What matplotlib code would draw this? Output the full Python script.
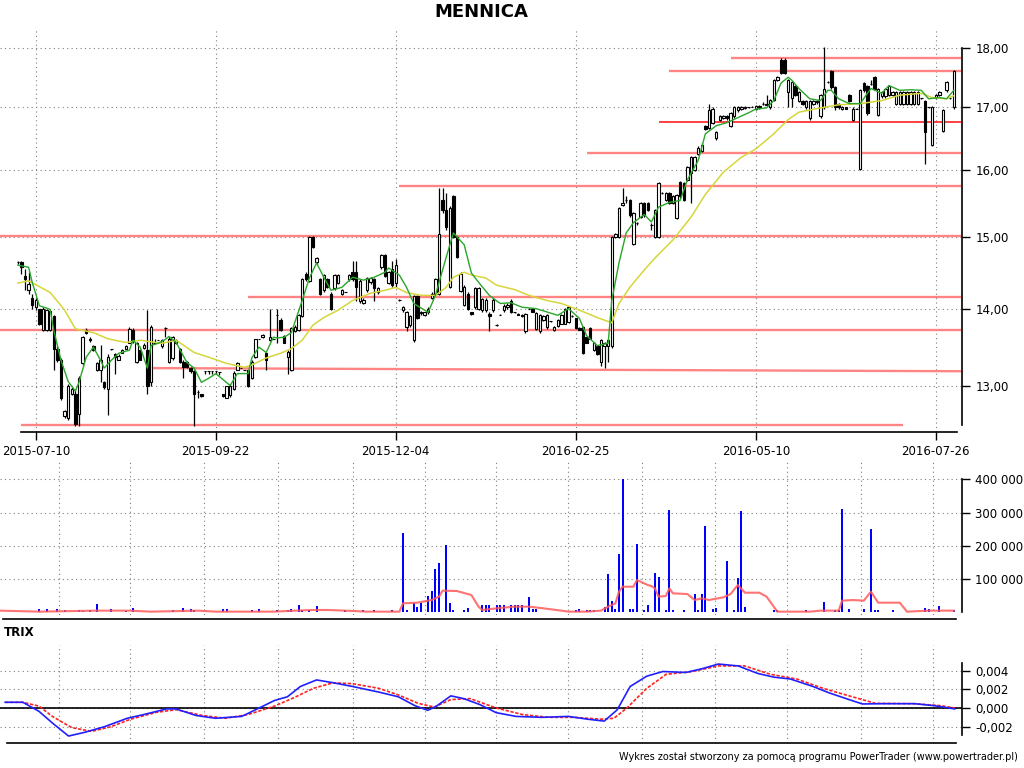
import numpy as np
import matplotlib.pyplot as plt
from matplotlib.ticker import FixedLocator, FuncFormatter, NullLocator

plt.rcParams['font.family'] = 'DejaVu Sans'

# ---------------- data ----------------
date_idx = [5, 55, 105, 155, 205, 255]
date_labels = ['2015-07-10', '2015-09-22', '2015-12-04', '2016-02-25', '2016-05-10', '2016-07-26']
month_grid = [11.4, 31.3, 51.8, 72.2, 93.0, 113.0, 132.9, 152.9, 173.4, 193.7, 213.7, 234.2, 254.2]

opens = [
    14.64, 14.64, 14.45, 14.25, 14.15, 14.02, 14.00, 13.71, 13.72, 13.72,
    13.90, 13.47, 13.32, 12.62, 12.60, 12.90, 12.90, 12.65, 13.28, 13.72,
    13.60, 13.50, 13.19, 13.20, 13.04, 12.96, 13.46, 13.40, 13.33, 13.42,
    13.47, 13.55, 13.72, 13.30, 13.45, 13.48, 13.45, 13.05, 13.55, 13.58,
    13.50, 13.74, 13.30, 13.35, 13.55, 13.47, 13.30, 13.30, 13.22, 13.18,
    12.92, 12.89, 13.18, 13.18, 13.18, 13.18, 13.17, 12.89, 12.85, 12.88,
    12.95, 13.20, 13.22, 13.20, 13.19, 13.10, 13.36, 13.60, 13.62, 13.42,
    13.58, 13.60, 13.92, 13.85, 13.63, 13.36, 13.20, 13.70, 13.71, 13.90,
    14.48, 14.38, 15.00, 14.64, 14.40, 14.25, 14.40, 14.20, 14.28, 14.35,
    14.20, 14.22, 14.40, 14.50, 14.50, 14.10, 14.08, 14.25, 14.36, 14.40,
    14.22, 14.57, 14.75, 14.35, 14.55, 14.35, 14.12, 13.98, 13.76, 13.78,
    13.58, 14.17, 13.94, 13.92, 13.95, 14.15, 14.20, 14.20, 15.55, 15.40,
    14.30, 15.60, 15.00, 14.24, 14.05, 14.20, 13.95, 14.02, 14.00, 13.98,
    13.98, 13.93, 13.98, 13.78, 13.92, 13.98, 14.02, 14.11, 13.95, 13.93,
    13.90, 13.70, 14.00, 14.00, 13.73, 13.70, 13.85, 13.75, 13.83, 13.71,
    13.77, 13.80, 13.80, 13.82, 13.90, 13.87, 13.74, 13.76, 13.62, 13.74,
    13.45, 13.50, 13.30, 13.50, 13.50, 13.50, 15.00, 15.00, 15.47, 15.55,
    15.54, 14.90, 15.20, 15.30, 15.50, 15.50, 15.17, 15.00, 15.00, 15.65,
    15.55, 15.65, 15.50, 15.28, 15.82, 15.80, 15.85, 15.95, 16.00, 16.25,
    16.30, 16.70, 16.66, 16.75, 16.50, 16.80, 16.83, 16.86, 16.70, 16.85,
    16.95, 16.98, 16.99, 17.00, 17.01, 16.98, 17.00, 17.05, 17.04, 17.00,
    17.12, 17.45, 17.80, 17.80, 17.25, 17.15, 17.35, 17.10, 17.10, 17.00,
    16.82, 17.05, 17.08, 16.85, 17.00, 17.42, 17.60, 17.33, 17.05, 16.98,
    17.00, 17.20, 16.80, 16.98, 16.02, 17.40, 17.35, 17.38, 17.50, 16.88,
    17.18, 17.18, 17.20, 17.20, 17.05, 17.05, 17.05, 17.06, 17.06, 17.06,
    17.06, 17.15, 17.10, 17.00, 16.40, 17.15, 17.20, 16.62, 17.28, 17.15,
    17.00,
]
highs = [
    14.66, 14.66, 14.55, 14.50, 14.20, 14.15, 14.00, 14.02, 14.00, 13.98,
    13.92, 13.50, 13.35, 12.70, 13.02, 12.98, 12.95, 13.12, 13.64, 13.74,
    13.62, 13.52, 13.30, 13.52, 13.06, 13.40, 13.47, 13.42, 13.40, 13.46,
    13.52, 13.75, 13.74, 13.56, 13.47, 13.55, 13.98, 13.78, 13.60, 13.58,
    13.60, 13.76, 13.62, 13.64, 13.60, 13.48, 13.32, 13.31, 13.23, 13.20,
    12.94, 12.90, 13.18, 13.18, 13.18, 13.18, 13.17, 12.90, 13.00, 13.02,
    13.18, 13.30, 13.22, 13.20, 13.20, 13.32, 13.60, 13.60, 13.66, 13.43,
    14.00, 13.60, 14.00, 13.87, 13.65, 13.45, 13.76, 13.78, 13.93, 14.42,
    14.50, 15.02, 15.02, 14.72, 14.42, 14.48, 14.42, 14.22, 14.48, 14.48,
    14.27, 14.22, 14.48, 14.66, 14.66, 14.40, 14.14, 14.44, 14.44, 14.42,
    14.30, 14.76, 14.76, 14.52, 14.66, 14.68, 14.13, 14.04, 13.97, 13.92,
    14.19, 14.19, 13.97, 13.96, 14.02, 14.22, 14.42, 15.73, 15.73, 15.65,
    15.45, 15.62, 15.02, 14.50, 14.32, 14.22, 13.96, 14.30, 14.30, 14.15,
    14.14, 13.95, 14.14, 13.79, 13.93, 14.06, 14.07, 14.13, 13.96, 13.94,
    13.93, 13.94, 14.01, 14.01, 13.95, 13.93, 13.91, 13.93, 13.84, 13.77,
    13.86, 13.93, 14.01, 14.03, 13.91, 13.88, 13.75, 13.77, 13.63, 13.75,
    13.56, 13.51, 13.59, 13.56, 13.59, 15.02, 15.06, 15.44, 15.72, 15.60,
    15.56, 15.37, 15.22, 15.52, 15.52, 15.52, 15.20, 15.41, 15.82, 15.66,
    15.67, 15.66, 15.62, 15.64, 15.84, 15.82, 16.07, 16.22, 16.22, 16.37,
    16.42, 16.72, 17.05, 17.00, 16.62, 16.87, 16.88, 16.88, 16.92, 17.02,
    17.02, 17.02, 17.02, 17.01, 17.02, 17.04, 17.04, 17.08, 17.20, 17.14,
    17.47, 17.52, 17.82, 17.82, 17.47, 17.44, 17.37, 17.27, 17.12, 17.12,
    17.12, 17.12, 17.12, 17.22, 18.02, 17.43, 17.62, 17.35, 17.07, 17.02,
    17.01, 17.22, 17.00, 16.99, 17.30, 17.42, 17.37, 17.45, 17.52, 17.32,
    17.27, 17.32, 17.37, 17.27, 17.27, 17.27, 17.27, 17.27, 17.27, 17.27,
    17.27, 17.16, 17.12, 17.01, 17.02, 17.22, 17.27, 16.97, 17.44, 17.16,
    17.62,
]
lows = [
    14.62, 14.48, 14.25, 14.20, 14.00, 13.98, 13.78, 13.70, 13.70, 13.70,
    13.20, 13.30, 12.82, 12.60, 12.58, 12.88, 12.50, 12.50, 13.26, 13.66,
    13.56, 13.44, 13.18, 13.05, 12.96, 12.64, 13.45, 13.15, 13.32, 13.41,
    13.46, 13.54, 13.55, 13.28, 13.32, 13.46, 12.90, 13.00, 13.55, 13.58,
    13.48, 13.62, 13.28, 13.33, 13.53, 13.28, 13.10, 13.22, 13.16, 12.50,
    12.85, 12.86, 13.14, 13.14, 13.14, 13.14, 13.13, 12.86, 12.84, 12.86,
    12.94, 13.19, 13.22, 13.20, 12.98, 13.08, 13.35, 13.60, 13.61, 13.20,
    13.57, 13.60, 13.55, 13.70, 13.54, 13.14, 13.18, 13.69, 13.70, 13.89,
    14.38, 14.36, 14.84, 14.62, 14.18, 14.22, 14.28, 13.98, 14.26, 14.33,
    14.18, 14.22, 14.38, 14.38, 14.10, 14.08, 14.06, 14.23, 14.34, 14.10,
    14.20, 14.55, 14.43, 14.33, 14.30, 14.30, 14.11, 13.96, 13.70, 13.76,
    13.56, 13.86, 13.92, 13.90, 13.93, 14.13, 14.18, 14.18, 15.35, 15.10,
    14.28, 14.98, 14.70, 14.22, 14.03, 13.98, 13.92, 14.00, 13.98, 13.96,
    13.96, 13.70, 13.96, 13.77, 13.91, 13.96, 14.00, 13.94, 13.94, 13.91,
    13.89, 13.68, 13.99, 13.95, 13.71, 13.68, 13.84, 13.73, 13.82, 13.70,
    13.76, 13.79, 13.79, 13.81, 13.89, 13.73, 13.71, 13.40, 13.54, 13.59,
    13.44, 13.39, 13.25, 13.22, 13.30, 13.48, 14.98, 14.98, 15.45, 15.50,
    15.30, 14.88, 15.18, 15.28, 15.30, 15.38, 15.10, 14.98, 14.98, 15.64,
    15.53, 15.48, 15.48, 15.26, 15.58, 15.53, 15.83, 15.50, 15.98, 16.23,
    16.28, 16.63, 16.64, 16.73, 16.48, 16.78, 16.81, 16.80, 16.68, 16.83,
    16.93, 16.96, 16.97, 16.99, 17.00, 16.96, 16.98, 17.03, 17.02, 16.98,
    17.10, 17.43, 17.55, 17.55, 17.00, 17.00, 17.18, 17.08, 17.03, 16.98,
    16.80, 17.03, 17.06, 16.83, 16.98, 17.41, 17.31, 16.95, 16.98, 16.96,
    16.97, 17.08, 16.78, 16.97, 16.00, 17.26, 16.88, 17.37, 17.28, 16.86,
    17.16, 17.16, 17.18, 17.18, 17.03, 17.03, 17.03, 17.04, 17.04, 17.04,
    17.04, 17.14, 16.10, 16.99, 16.38, 17.13, 17.18, 16.60, 17.26, 17.14,
    16.98,
]
closes = [
    14.64, 14.58, 14.40, 14.33, 14.05, 14.12, 13.80, 14.00, 13.98, 13.97,
    13.47, 13.32, 12.84, 12.68, 13.00, 12.95, 12.53, 13.10, 13.62, 13.68,
    13.58, 13.45, 13.28, 13.33, 12.98, 13.36, 13.46, 13.36, 13.38, 13.45,
    13.50, 13.73, 13.57, 13.55, 13.33, 13.52, 13.00, 13.75, 13.55, 13.58,
    13.58, 13.74, 13.60, 13.62, 13.58, 13.30, 13.24, 13.24, 13.18, 12.90,
    12.92, 12.87, 13.18, 13.18, 13.18, 13.18, 13.17, 12.87, 12.99, 13.00,
    13.16, 13.28, 13.22, 13.20, 13.00, 13.30, 13.59, 13.60, 13.65, 13.33,
    13.62, 13.60, 13.92, 13.71, 13.55, 13.43, 13.74, 13.76, 13.91, 14.40,
    14.40, 15.00, 14.86, 14.70, 14.20, 14.46, 14.30, 14.00, 14.46, 14.46,
    14.25, 14.22, 14.46, 14.40, 14.30, 14.38, 14.12, 14.42, 14.42, 14.28,
    14.28, 14.75, 14.45, 14.50, 14.32, 14.60, 14.12, 14.02, 13.95, 13.90,
    14.17, 13.88, 13.96, 13.95, 14.00, 14.20, 14.40, 15.05, 15.40, 15.15,
    15.42, 15.00, 14.72, 14.48, 14.30, 14.00, 13.93, 14.28, 14.28, 14.13,
    14.12, 13.90, 14.12, 13.78, 13.92, 14.04, 14.05, 13.96, 13.95, 13.92,
    13.92, 13.93, 14.00, 13.96, 13.94, 13.92, 13.90, 13.92, 13.83, 13.76,
    13.85, 13.92, 14.00, 14.02, 13.90, 13.74, 13.72, 13.42, 13.55, 13.60,
    13.55, 13.40, 13.58, 13.55, 13.58, 15.00, 15.05, 15.42, 15.50, 15.55,
    15.32, 15.35, 15.20, 15.50, 15.32, 15.40, 15.17, 15.39, 15.80, 15.65,
    15.65, 15.50, 15.60, 15.62, 15.60, 15.55, 16.05, 16.20, 16.20, 16.35,
    16.40, 16.65, 16.95, 16.98, 16.60, 16.85, 16.86, 16.82, 16.90, 17.00,
    17.00, 17.00, 17.00, 17.00, 17.01, 17.02, 17.02, 17.06, 17.06, 17.12,
    17.45, 17.50, 17.57, 17.57, 17.45, 17.42, 17.20, 17.25, 17.05, 17.10,
    17.10, 17.10, 17.10, 17.20, 17.30, 17.42, 17.33, 17.00, 17.00, 17.00,
    16.98, 17.10, 16.98, 16.98, 17.28, 17.28, 16.90, 17.38, 17.30, 17.30,
    17.25, 17.30, 17.35, 17.25, 17.25, 17.25, 17.25, 17.25, 17.25, 17.25,
    17.25, 17.15, 16.60, 17.00, 17.00, 17.20, 17.25, 16.95, 17.42, 17.15,
    17.60,
]

# short (green) and long (yellow) moving averages
green_x = [0, 3, 4, 6, 9, 10, 12, 14, 16, 17, 19, 21, 23, 24, 26, 28, 31, 32, 34, 36,
           37, 39, 41, 42, 44, 47, 49, 51, 53, 55, 59, 61, 64, 65, 67, 69, 71, 72, 74, 76,
           79, 81, 83, 85, 87, 90, 93, 96, 99, 102, 103, 106, 108, 110, 114, 116, 119, 121, 124, 126,
           128, 131, 134, 137, 140, 144, 148, 150, 153, 156, 158, 161, 164, 165, 167, 169, 171, 174, 176, 178,
           181, 184, 186, 189, 191, 194, 197, 200, 203, 205, 208, 210, 212, 214, 215, 217, 220, 223, 225, 226,
           228, 231, 234, 236, 237, 240, 242, 245, 248, 251, 253, 256, 258, 260]
green_y = [14.6, 14.57, 14.36, 14.04, 13.99, 13.71, 13.32, 13.05, 12.93, 13.04,
           13.36, 13.49, 13.32, 13.22, 13.32, 13.41, 13.45, 13.58, 13.49, 13.22,
           13.51, 13.54, 13.59, 13.63, 13.55, 13.29, 13.22, 13.04, 13.09, 13.15,
           13.0, 13.15, 13.15, 13.35, 13.49, 13.42, 13.62, 13.61, 13.62, 13.68,
           14.11, 14.42, 14.63, 14.43, 14.25, 14.29, 14.43, 14.39, 14.43, 14.5,
           14.56, 14.46, 14.29, 14.07, 13.95, 14.18, 14.71, 15.06, 14.89, 14.49,
           14.36, 14.18, 14.07, 14.08, 14.02, 14.0, 13.94, 13.91, 14.0, 13.87,
           13.64, 13.51, 13.54, 14.11, 14.63, 15.06, 15.21, 15.33, 15.22, 15.44,
           15.51, 15.54, 15.85, 16.15, 16.57, 16.7, 16.75, 16.83, 16.91, 16.97,
           16.99, 17.11, 17.4, 17.5, 17.45, 17.31, 17.14, 17.11, 17.28, 17.28,
           17.14, 17.06, 17.06, 17.23, 17.31, 17.23, 17.36, 17.28, 17.29, 17.28,
           17.14, 17.16, 17.14, 17.28]
yellow_x = [0, 3, 9, 13, 16, 21, 25, 30, 34, 40, 44, 49, 53, 58, 63, 65, 69, 73, 76, 79,
            82, 85, 89, 93, 98, 102, 105, 108, 112, 116, 119, 121, 124, 126, 130, 133, 138, 142, 147, 151,
            156, 161, 165, 167, 170, 174, 177, 182, 187, 191, 196, 201, 205, 210, 214, 217, 223, 228, 234, 240,
            245, 251, 254, 258, 260]
yellow_y = [14.35, 14.38, 14.22, 13.98, 13.73, 13.68, 13.6, 13.55, 13.58, 13.54,
            13.58, 13.42, 13.36, 13.28, 13.23, 13.26, 13.35, 13.41, 13.47, 13.58,
            13.78, 13.88, 13.98, 14.11, 14.21, 14.25, 14.29, 14.22, 14.18, 14.18,
            14.29, 14.43, 14.5, 14.46, 14.42, 14.32, 14.26, 14.18, 14.11, 14.07,
            13.98, 13.88, 13.81, 14.07, 14.29, 14.53, 14.7, 14.96, 15.29, 15.63,
            15.97, 16.2, 16.33, 16.57, 16.8, 16.92, 16.99, 17.04, 17.06, 17.11,
            17.2, 17.23, 17.16, 17.14, 17.19]

# support / resistance lines: start, end (bar index) and price at start / end
sr_x0 = [198, 181, 178, 158, 106, -5, 64, -5, 37, 1]
sr_x1 = [262, 262, 262, 262, 262, 262, 262, 262, 262, 246]
sr_p0 = [17.83, 17.60, 16.76, 16.26, 15.76, 15.02, 14.16, 13.72, 13.22, 12.52]
sr_p1 = [17.83, 17.60, 16.76, 16.26, 15.76, 15.02, 14.16, 13.72, 13.18, 12.52]

# volume (thousands of shares)
vol_idx = [6, 8, 11, 13, 17, 18, 20, 22, 26, 30,
           32, 43, 46, 48, 49, 57, 58, 65, 67, 72,
           75, 76, 78, 79, 81, 83, 91, 96, 99, 104,
           107, 108, 110, 111, 112, 114, 115, 116, 117, 119,
           120, 121, 124, 125, 129, 130, 131, 133, 134, 135,
           137, 138, 139, 140, 142, 143, 144, 155, 156, 158,
           159, 160, 163, 164, 165, 166, 167, 168, 170, 171,
           172, 174, 175, 177, 178, 180, 181, 182, 185, 188,
           189, 190, 191, 193, 194, 197, 199, 200, 201, 202,
           210, 211, 219, 224, 227, 228, 229, 231, 235, 237,
           238, 239, 243, 252, 253, 256, 260]
volume_k = [10, 10, 10, 7, 7, 5, 7, 25, 10, 5,
            14, 7, 14, 10, 7, 10, 10, 7, 10, 7,
            7, 10, 22, 7, 7, 20, 7, 7, 7, 7,
            239, 7, 27, 17, 27, 49, 64, 130, 149, 202,
            27, 7, 7, 14, 22, 22, 22, 22, 22, 22,
            22, 22, 22, 22, 47, 10, 10, 7, 10, 7,
            7, 7, 17, 115, 33, 10, 175, 402, 10, 10,
            205, 7, 22, 117, 107, 7, 309, 7, 7, 55,
            7, 55, 259, 10, 14, 154, 7, 104, 304, 17,
            7, 7, 7, 30, 7, 7, 310, 10, 10, 252,
            7, 7, 7, 14, 10, 20, 7]
vma_x = [-5, 6, 22, 31, 37, 50, 55, 64, 71, 77, 82, 86, 91, 97, 106, 107, 111, 115, 117, 118,
         122, 126, 128, 129, 133, 138, 142, 146, 151, 153, 158, 162, 164, 166, 167, 168, 171, 172, 175, 176,
         177, 178, 180, 181, 182, 186, 188, 190, 192, 196, 198, 200, 202, 206, 208, 210, 211, 220, 223, 228,
         229, 232, 235, 237, 239, 245, 247, 253, 260]
vma_k = [5, 2, 5, 5, 2, 5, 2, 2, 2, 5, 7, 7, 5, 2, 2, 27, 29, 37, 47, 65,
         64, 52, 17, 7, 12, 17, 17, 12, 5, 2, 2, 5, 17, 27, 62, 77, 77, 97, 82, 79,
         72, 47, 49, 72, 57, 55, 37, 42, 37, 45, 55, 82, 59, 59, 47, 17, 2, 2, 5, 5,
         35, 37, 35, 62, 29, 29, 2, 5, 5]

# TRIX and its signal line
trix_x = [-3.5, 1.4, 5.9, 9.6, 14.1, 18.6, 24.1, 30.4, 35, 41.3,
          44, 49.5, 54.9, 62.2, 67.6, 71.3, 74.9, 78.5, 83, 87.6,
          93, 100.3, 105.7, 110.3, 113.9, 116.3, 120.3, 123.9, 128.4, 132.9,
          138.4, 145.6, 152.9, 158.3, 162.9, 166.5, 170.1, 174.7, 179.2, 185.6,
          190.1, 194.6, 200.1, 205.5, 210, 214.6, 220.9, 225.5, 230.9, 234.6,
          240, 249.1, 254.5, 260.3]
trix = [0.00061, 0.00061, -0.00036, -0.0016, -0.003, -0.0026, -0.002, -0.0011, -0.0007, -0.0001,
        -0.0001, -0.0008, -0.0011, -0.0009, 0.0001, 0.0008, 0.0012, 0.0023, 0.003, 0.0027,
        0.0023, 0.0017, 0.0012, 0.00025, -0.00025, 0.0002, 0.0013, 0.001, 0.00036, -0.0005,
        -0.0009, -0.001, -0.0009, -0.0012, -0.0014, -0.0002, 0.0023, 0.0034, 0.0039, 0.0038,
        0.0042, 0.0047, 0.0045, 0.0037, 0.0033, 0.0031, 0.0023, 0.0016, 0.0009, 0.00043,
        0.00046, 0.00046, 0.00025, -0.0001]
signal_x = [-3.5, 1.4, 5.9, 9.6, 15, 20.5, 25.9, 31.3, 38.6, 44,
            51.3, 57.7, 64, 71.3, 76.7, 82.1, 87.6, 93, 100.3, 105.7,
            111.2, 115.7, 120.3, 125.7, 132.9, 140.2, 147.5, 154.7, 162, 165.6,
            169.2, 174.7, 180.1, 187.4, 194.6, 201.9, 209.1, 216.4, 223.7, 230.9,
            238.2, 249.1, 256.3, 260.3]
signal = [0.00061, 0.00061, 0.0002, -0.0009, -0.0021, -0.0025, -0.002, -0.0012, -0.00046, -0.00018,
          -0.0008, -0.0011, -0.0007, 0.0002, 0.0011, 0.0021, 0.0027, 0.0026, 0.0021, 0.0014,
          0.0005, 0.0001, 0.0009, 0.001, 0.0, -0.0007, -0.001, -0.001, -0.0012, -0.0011,
          0.0, 0.0021, 0.0036, 0.0039, 0.0045, 0.0045, 0.0036, 0.0031, 0.0021, 0.0013,
          0.0005, 0.00046, 0.00025, 0.0]

# ---------------- figure ----------------
fig = plt.figure(figsize=(10.24, 7.68), dpi=100)
X0, X1 = -4.94, 262.3
grid_kw = dict(color='#7f7f7f', linestyle=(0, (1, 3)), linewidth=0.8)
fs = 8.5

# price panel
ax = fig.add_axes([0, 0.4375, 0.9395, 0.526])
idx = np.arange(len(closes))
o = np.array(opens)
c = np.array(closes)
up = c >= o
ax.vlines(idx, lows, highs, colors='black', linewidth=0.9, zorder=2)
ax.bar(idx, np.abs(c - o), bottom=np.minimum(o, c), width=0.7,
       color=np.where(up, 'white', 'black'), edgecolor='black', linewidth=0.8, zorder=3)

sr_colors = ['#ff8585'] * 10
sr_colors[2] = '#ff2020'
sr_lw = [1.7] * 10
sr_lw[2] = 1.2
for k in range(len(sr_x0)):
    ax.plot([sr_x0[k], sr_x1[k]], [sr_p0[k], sr_p1[k]], color=sr_colors[k],
            lw=sr_lw[k], solid_capstyle='butt', zorder=1.5)

ax.plot(yellow_x, yellow_y, color='#d6d63a', lw=1.1, zorder=4)
ax.plot(green_x, green_y, color='#2aa52a', lw=1.0, zorder=5)

ax.set_yscale('log')
ax.set_ylim(12.43, 18.35)
ax.set_xlim(X0, X1)
ax.yaxis.set_major_locator(FixedLocator([13, 14, 15, 16, 17, 18]))
ax.yaxis.set_minor_locator(NullLocator())
ax.yaxis.set_major_formatter(FuncFormatter(lambda v, p: f'{v:.2f}'.replace('.', ',')))
ax.yaxis.tick_right()
ax.set_xticks(date_idx)
ax.set_xticklabels(date_labels)
ax.tick_params(axis='both', direction='out', length=6, width=1, labelsize=fs, pad=3.5)
for s in ['left', 'top']:
    ax.spines[s].set_visible(False)
ax.spines['right'].set_bounds(12.52, 18.0)
ax.spines['bottom'].set_bounds(1, 261)
for s in ['right', 'bottom']:
    ax.spines[s].set_linewidth(1.2)
ax.grid(True, **grid_kw)
ax.set_axisbelow(True)

# volume panel
axv = fig.add_axes([0, 0.194, 0.9395, 0.2044])
axv.bar(vol_idx, volume_k, width=0.55, color='#0000ff', zorder=3)
axv.plot(vma_x, vma_k, color='#ff5a5a', lw=1.5, alpha=0.85, zorder=4)
axv.set_xlim(X0, X1)
axv.set_ylim(-20.15, 452)
axv.yaxis.tick_right()
axv.set_yticks([100, 200, 300, 400])
axv.yaxis.set_major_formatter(FuncFormatter(lambda v, p: f'{int(round(v * 1000)):,}'.replace(',', ' ')))
axv.set_xticks(month_grid)
axv.tick_params(axis='x', length=0, labelbottom=False)
axv.tick_params(axis='y', direction='out', length=6, width=1, labelsize=fs, pad=3.5)
for s in ['left', 'top']:
    axv.spines[s].set_visible(False)
axv.spines['right'].set_bounds(0, 400)
axv.spines['bottom'].set_bounds(-4, 260.5)
for s in ['right', 'bottom']:
    axv.spines[s].set_linewidth(1.2)
axv.grid(True, **grid_kw)
axv.set_axisbelow(True)

# TRIX panel
axt = fig.add_axes([0, 0.0326, 0.9395, 0.1276])
axt.axhline(0, color='black', lw=1.2, zorder=2)
axt.plot(signal_x, signal, color='#ff2020', lw=1.2, linestyle=(0, (2, 1)), zorder=3)
axt.plot(trix_x, trix, color='#2020ff', lw=1.2, zorder=4)
axt.set_xlim(X0, X1)
axt.set_ylim(-0.00374, 0.00674)
axt.yaxis.tick_right()
axt.set_yticks([-0.002, 0.0, 0.002, 0.004])
axt.yaxis.set_major_formatter(FuncFormatter(lambda v, p: f'{v:.3f}'.replace('.', ',').replace('-0,000', '0,000')))
axt.set_xticks(month_grid)
axt.tick_params(axis='x', length=0, labelbottom=False)
axt.tick_params(axis='y', direction='out', length=6, width=1, labelsize=fs, pad=3.5)
for s in ['left', 'top']:
    axt.spines[s].set_visible(False)
axt.spines['right'].set_bounds(-0.0029, 0.0048)
axt.spines['bottom'].set_bounds(-3, 260.5)
for s in ['right', 'bottom']:
    axt.spines[s].set_linewidth(1.2)
axt.grid(True, **grid_kw)
axt.set_axisbelow(True)

fig.text(0.47, 0.984, 'MENNICA', ha='center', va='center', fontsize=13, fontweight='bold')
fig.text(4 / 1024, 1 - 632 / 768, 'TRIX', ha='left', va='center', fontsize=fs, fontweight='bold')
fig.text(1018 / 1024, 1 - 757 / 768,
         'Wykres został stworzony za pomocą programu PowerTrader (www.powertrader.pl)',
         ha='right', va='center', fontsize=7)

fig.savefig('out.png', dpi=100)
